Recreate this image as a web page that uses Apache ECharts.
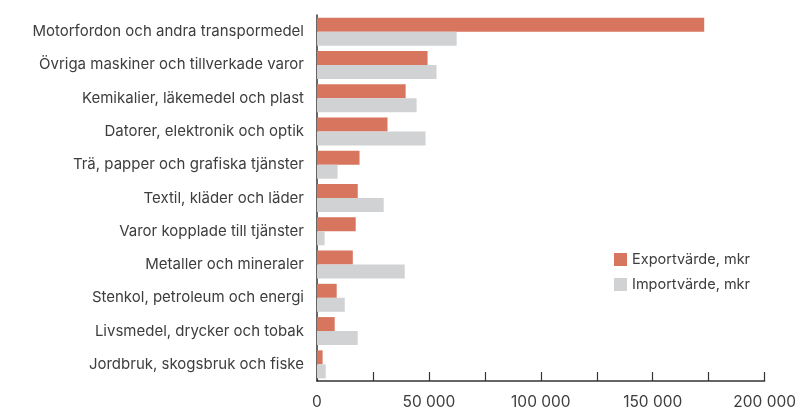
<!DOCTYPE html>
<html>
<head>
<meta charset="utf-8">
<script src="https://cdn.jsdelivr.net/npm/echarts@6/dist/echarts.min.js"></script>
<style>
html, body { margin: 0; padding: 0; background: #fff; }
#main { width: 799px; height: 410px; }
</style>
</head>
<body>
<div id="main"></div>
<script>
var myChart = echarts.init(document.getElementById('main'));

// kategorier, uppifrån och ner
var categories = [
    'Motorfordon och andra transpormedel',
    'Övriga maskiner och tillverkade varor',
    'Kemikalier, läkemedel och plast',
    'Datorer, elektronik och optik',
    'Trä, papper och grafiska tjänster',
    'Textil, kläder och läder',
    'Varor kopplade till tjänster',
    'Metaller och mineraler',
    'Stenkol, petroleum och energi',
    'Livsmedel, drycker och tobak',
    'Jordbruk, skogsbruk och fiske'
];
var exportValues = [173000, 49400, 39600, 31500, 19000, 18200, 17300, 16000, 8800, 7900, 2500];
var importValues = [62400, 53400, 44500, 48500, 9200, 29800, 3400, 39200, 12400, 18200, 3900];
var seriesNames = ['Exportvärde, mkr', 'Importvärde, mkr'];

var font = 'Inter';
var textColor = '#3d3d3d';

function fmt(v) {
    if (v % 50000 !== 0) return '';
    return String(v).replace(/\B(?=(\d{3})+(?!\d))/g, ' ');
}

var option = {
    backgroundColor: '#ffffff',
    animation: false,
    textStyle: { fontFamily: font, color: textColor },
    grid: { left: 317, right: 34, top: 15, bottom: 29, containLabel: false },
    legend: {
        data: seriesNames,
        orient: 'vertical',
        left: 609,
        top: 247,
        itemWidth: 13,
        itemHeight: 13,
        itemGap: 10,
        icon: 'rect',
        textStyle: { fontFamily: font, fontSize: 14.5, color: textColor }
    },
    xAxis: {
        type: 'value',
        min: 0,
        max: 200000,
        interval: 25000,
        splitLine: { show: false },
        axisLine: { show: true, lineStyle: { color: '#333', width: 1.5 } },
        axisTick: { show: true, inside: true, length: 9, lineStyle: { color: '#333', width: 1.2 } },
        axisLabel: {
            margin: 13,
            fontSize: 15.5,
            color: textColor,
            fontFamily: font,
            showMaxLabel: true,
            formatter: fmt
        }
    },
    yAxis: {
        type: 'category',
        data: categories,
        inverse: true,
        axisLine: { show: true, lineStyle: { color: '#333', width: 1.5 } },
        axisTick: { show: false },
        axisLabel: { margin: 13, fontSize: 15, color: textColor, fontFamily: font }
    },
    series: [
        {
            name: seriesNames[0],
            type: 'bar',
            data: exportValues,
            barWidth: 14,
            barGap: '0%',
            itemStyle: { color: '#d8755e' }
        },
        {
            name: seriesNames[1],
            type: 'bar',
            data: importValues,
            barWidth: 14,
            barGap: '0%',
            itemStyle: { color: '#d1d2d4' }
        }
    ]
};
myChart.setOption(option);
</script>
</body>
</html>
